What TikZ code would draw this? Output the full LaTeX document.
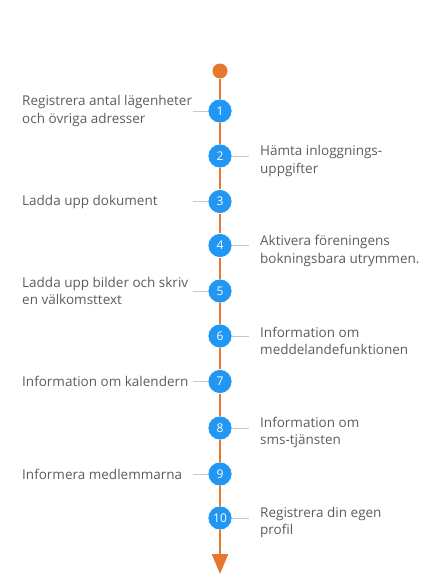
\documentclass[tikz,border=0pt]{standalone}
\usepackage{fontspec}
\setmainfont{Open Sans}
\usepackage{tikz}
\usetikzlibrary{arrows.meta}

\definecolor{lineorange}{HTML}{E6772E}
\definecolor{stepblue}{HTML}{2196F3}
\definecolor{conngray}{HTML}{C8C8C8}
\definecolor{textgray}{HTML}{5C5C5C}

\begin{document}
\begin{tikzpicture}[x=1pt, y=-1pt,
stepc/.style={circle, fill=stepblue, draw=white, line width=0.6pt, minimum size=24pt, inner sep=0pt, text=white, font=\fontsize{12}{14}\selectfont},
lab/.style={anchor=west, inner sep=0pt, align=left, text=textgray, font=\fontsize{13.5}{17.5}\selectfont},
conn/.style={draw=conngray, line width=0.9pt},
axis/.style={draw=lineorange, line width=2.4pt}]

\useasboundingbox (0,0) rectangle (440,587);

\node[circle, fill=lineorange, minimum size=15pt, inner sep=0pt] at (220,71) (start) {};

\node[stepc] at (220,111) (s1) {1};
\node[stepc] at (220,156) (s2) {2};
\node[stepc] at (220,201.5) (s3) {3};
\node[stepc] at (220,245.5) (s4) {4};
\node[stepc] at (220,291) (s5) {5};
\node[stepc] at (220,336) (s6) {6};
\node[stepc] at (220,381.5) (s7) {7};
\node[stepc] at (220,428) (s8) {8};
\node[stepc] at (220,474) (s9) {9};
\node[stepc] at (220,518) (s10) {10};
\coordinate (end) at (220,574);

% time line
\draw[axis] (start) -- (s1) -- (s2) -- (s3) -- (s4) -- (s5) -- (s6) -- (s7) -- (s8) -- (s9) -- (s10);
\draw[axis, -{Triangle[length=20pt, width=16pt]}] (s10) -- (end);

% labels left
\node[lab] at (22,111) (l1) {Registrera antal lägenheter\\och övriga adresser};
\node[lab] at (22,201.5) (l3) {Ladda upp dokument};
\node[lab] at (22,291) (l5) {Ladda upp bilder och skriv\\en välkomsttext};
\node[lab] at (22,381.5) (l7) {Information om kalendern};
\node[lab] at (22,474) (l9) {Informera medlemmarna};

% labels right
\node[lab] at (260,161) (r2) {Hämta inloggnings-\\uppgifter};
\node[lab] at (260,251) (r4) {Aktivera föreningens\\bokningsbara utrymmen.};
\node[lab] at (260,341) (r6) {Information om\\meddelandefunktionen};
\node[lab] at (260,432.5) (r8) {Information om\\sms-tjänsten};
\node[lab] at (260,522.5) (r10) {Registrera din egen\\profil};

\draw[conn] ([xshift=-15pt]s1.west) -- (s1);
\draw[conn] ([xshift=-15pt]s3.west) -- (s3);
\draw[conn] ([xshift=-15pt]s5.west) -- (s5);
\draw[conn] ([xshift=-15pt]s7.west) -- (s7);
\draw[conn] ([xshift=-15pt]s9.west) -- (s9);

\draw[conn] (s2) -- ([xshift=-11pt]s2.east -| r2.west);
\draw[conn] (s4) -- ([xshift=-11pt]s4.east -| r4.west);
\draw[conn] (s6) -- ([xshift=-11pt]s6.east -| r6.west);
\draw[conn] (s8) -- ([xshift=-11pt]s8.east -| r8.west);
\draw[conn] (s10) -- ([xshift=-11pt]s10.east -| r10.west);
\end{tikzpicture}
\end{document}
